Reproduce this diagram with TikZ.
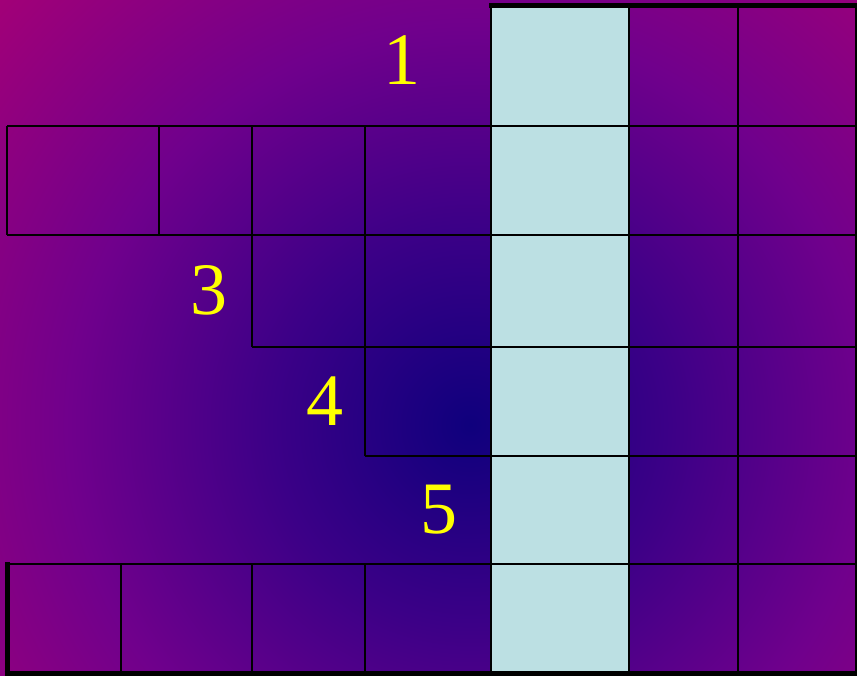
\documentclass[tikz,border=0pt]{standalone}
\usepackage{fontspec}
\setmainfont{Liberation Serif}
\definecolor{c0}{RGB}{15,0,125}
\definecolor{c1}{RGB}{60,0,135}
\definecolor{c2}{RGB}{112,0,140}
\definecolor{c3}{RGB}{165,0,118}
\definecolor{lightcol}{RGB}{188,224,227}
\definecolor{labelyellow}{RGB}{255,255,0}
\pgfdeclareradialshading{bgshade}{\pgfpointorigin}{color(0bp)=(c0); color(7.7bp)=(c1); color(15.4bp)=(c2); color(25bp)=(c3); color(50bp)=(c3)}
\tikzset{
  grid/.style={draw=black, line width=2pt},
  thick border/.style={draw=black, line width=5pt},
  numlabel/.style={text=labelyellow, font=\fontsize{74}{80}\selectfont, inner sep=0pt}
}
\begin{document}
\begin{tikzpicture}[x=1pt,y=-1pt]
\useasboundingbox (0,0) rectangle (857,676);
\begin{scope}
  \clip (0,0) rectangle (857,676);
  \shade[shading=bgshade] (470,425) circle (650);
\end{scope}
% light column
\fill[lightcol] (491,5) rectangle (629,673);
% horizontal lines
\draw[grid] (7,126) -- (857,126);
\draw[grid] (7,235) -- (857,235);
\draw[grid] (252,347) -- (857,347);
\draw[grid] (365,456) -- (857,456);
\draw[grid] (7,564) -- (857,564);
% vertical lines through all rows
\draw[grid] (491,5) -- (491,673);
\draw[grid] (629,5) -- (629,673);
\draw[grid] (738,5) -- (738,673);
\draw[grid] (856,5) -- (856,673);
% row 2
\draw[grid] (7,126) -- (7,235);
\draw[grid] (159,126) -- (159,235);
\draw[grid] (252,126) -- (252,347);
\draw[grid] (365,126) -- (365,456);
% row 6
\draw[grid] (121,564) -- (121,673);
\draw[grid] (252,564) -- (252,673);
\draw[grid] (365,564) -- (365,673);
% thick borders
\draw[thick border] (489,5.5) -- (857,5.5);
\draw[thick border] (7,562) -- (7,676);
\draw[thick border] (4.5,673) -- (857,673);
% labels
\node[numlabel] (l1) at (402,60) {1};
\node[numlabel] (l3) at (209,290) {3};
\node[numlabel] (l4) at (325,401) {4};
\node[numlabel] (l5) at (439,510) {5};
\end{tikzpicture}
\end{document}
